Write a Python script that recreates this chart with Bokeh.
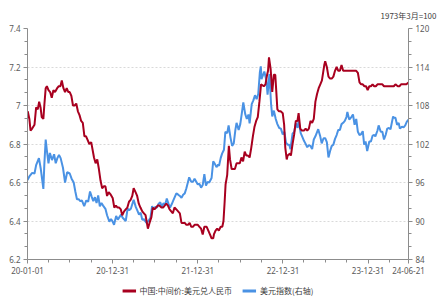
import pandas as pd
from bokeh.plotting import figure
from bokeh.layouts import column
from bokeh.models import (Range1d, LinearAxis, FixedTicker, Legend, LegendItem,
                          Title, DatetimeTickFormatter)
from bokeh.embed import file_html
from bokeh.resources import INLINE

# ---------------- data ----------------
cny_dates = [
 "2020-01-02","2020-01-09","2020-01-14","2020-01-21","2020-01-31","2020-02-07","2020-02-14","2020-02-20",
 "2020-02-26","2020-03-02","2020-03-09","2020-03-13","2020-03-19","2020-03-24","2020-03-31","2020-04-07",
 "2020-04-14","2020-04-21","2020-04-28","2020-05-07","2020-05-14","2020-05-21","2020-05-27","2020-06-03",
 "2020-06-10","2020-06-17","2020-06-24","2020-06-30","2020-07-07","2020-07-14","2020-07-21","2020-07-28",
 "2020-08-04","2020-08-11","2020-08-18","2020-08-25","2020-09-01","2020-09-08","2020-09-15","2020-09-22",
 "2020-09-30","2020-10-12","2020-10-19","2020-10-26","2020-11-02","2020-11-09","2020-11-16","2020-11-23",
 "2020-11-30","2020-12-07","2020-12-14","2020-12-21","2020-12-31",
 "2021-01-07","2021-01-14","2021-01-21","2021-01-28","2021-02-04","2021-02-10","2021-02-18","2021-02-25",
 "2021-03-04","2021-03-11","2021-03-18","2021-03-25","2021-03-31","2021-04-08","2021-04-15","2021-04-22",
 "2021-04-29","2021-05-07","2021-05-14","2021-05-21","2021-05-31","2021-06-07","2021-06-15","2021-06-21",
 "2021-06-28","2021-07-05","2021-07-12","2021-07-19","2021-07-28","2021-08-04","2021-08-11","2021-08-18",
 "2021-08-25","2021-09-01","2021-09-08","2021-09-15","2021-09-22","2021-09-30","2021-10-15","2021-10-22",
 "2021-10-29","2021-11-05","2021-11-12","2021-11-19","2021-11-26","2021-12-03","2021-12-10","2021-12-17",
 "2021-12-31",
 "2022-01-07","2022-01-14","2022-01-21","2022-01-28","2022-02-07","2022-02-14","2022-02-21","2022-02-28",
 "2022-03-07","2022-03-10","2022-03-17","2022-03-24","2022-03-31","2022-04-08","2022-04-15","2022-04-20",
 "2022-04-25","2022-04-29","2022-05-06","2022-05-13","2022-05-18","2022-05-25","2022-06-01","2022-06-08",
 "2022-06-15","2022-06-22","2022-06-29","2022-07-06","2022-07-13","2022-07-20","2022-07-27","2022-08-03",
 "2022-08-10","2022-08-17","2022-08-24","2022-08-31","2022-09-07","2022-09-14","2022-09-21","2022-09-28",
 "2022-10-10","2022-10-17","2022-10-24","2022-10-28","2022-11-01","2022-11-08","2022-11-15","2022-11-22",
 "2022-11-28","2022-12-02","2022-12-07","2022-12-14","2022-12-21","2022-12-30",
 "2023-01-05","2023-01-10","2023-01-16","2023-01-20","2023-01-30","2023-02-03","2023-02-10","2023-02-17",
 "2023-02-24","2023-03-03","2023-03-08","2023-03-15","2023-03-22","2023-03-31","2023-04-07","2023-04-14",
 "2023-04-21","2023-04-28","2023-05-05","2023-05-12","2023-05-19","2023-05-26","2023-06-02","2023-06-09",
 "2023-06-16","2023-06-26","2023-06-30","2023-07-07","2023-07-14","2023-07-21","2023-07-28","2023-08-04",
 "2023-08-11","2023-08-18","2023-08-25","2023-09-01","2023-09-08","2023-09-15","2023-09-22","2023-09-28",
 "2023-10-13","2023-10-20","2023-10-27","2023-11-03","2023-11-10","2023-11-17","2023-11-24","2023-12-01",
 "2023-12-08","2023-12-15","2023-12-22","2023-12-29",
 "2024-01-05","2024-01-12","2024-01-19","2024-01-26","2024-02-02","2024-02-09","2024-02-23","2024-03-01",
 "2024-03-08","2024-03-15","2024-03-22","2024-03-29","2024-04-03","2024-04-12","2024-04-19","2024-04-26",
 "2024-05-06","2024-05-13","2024-05-20","2024-05-27","2024-06-03","2024-06-12","2024-06-21",
]
cny_values = [
 6.97,6.93,6.87,6.88,6.90,6.99,6.98,7.02,
 6.99,6.94,6.93,7.00,7.09,7.10,7.08,7.07,
 7.04,7.08,7.07,7.09,7.10,7.10,7.13,7.09,
 7.07,7.09,7.07,7.07,7.05,7.00,7.00,7.01,
 6.97,6.95,6.92,6.91,6.84,6.84,6.82,6.80,
 6.81,6.73,6.70,6.72,6.67,6.61,6.57,6.58,
 6.58,6.53,6.55,6.54,6.52,
 6.47,6.48,6.47,6.47,6.46,6.43,6.45,6.46,
 6.47,6.50,6.51,6.53,6.57,6.55,6.53,6.49,
 6.47,6.45,6.44,6.43,6.36,6.39,6.42,6.47,
 6.46,6.47,6.48,6.48,6.47,6.47,6.48,6.49,
 6.48,6.46,6.45,6.44,6.47,6.46,6.44,6.39,
 6.39,6.39,6.38,6.38,6.39,6.37,6.37,6.38,
 6.38,
 6.37,6.36,6.33,6.37,6.37,6.35,6.33,6.31,
 6.31,6.33,6.35,6.36,6.35,6.37,6.37,6.40,
 6.50,6.59,6.64,6.79,6.72,6.67,6.67,6.67,
 6.70,6.70,6.70,6.73,6.71,6.76,6.74,6.74,
 6.73,6.78,6.84,6.89,6.92,6.94,7.02,7.11,
 7.10,7.11,7.16,7.18,7.25,7.19,7.07,7.16,
 7.16,7.08,6.98,6.97,6.97,6.96,
 6.90,6.78,6.72,6.74,6.75,6.74,6.80,6.85,
 6.92,6.92,6.96,6.88,6.87,6.87,6.88,6.87,
 6.88,6.92,6.91,6.93,7.02,7.06,7.09,7.11,
 7.13,7.21,7.23,7.20,7.15,7.14,7.14,7.15,
 7.18,7.20,7.18,7.18,7.21,7.18,7.18,7.18,
 7.18,7.18,7.18,7.18,7.18,7.17,7.12,7.11,
 7.11,7.10,7.10,7.08,
 7.10,7.10,7.11,7.10,7.10,7.11,7.11,7.11,
 7.10,7.10,7.10,7.10,7.10,7.10,7.10,7.11,
 7.10,7.10,7.11,7.11,7.11,7.11,7.12,
]

usd_dates = [
 "2020-01-01","2020-01-10","2020-01-21","2020-01-31","2020-02-07","2020-02-19","2020-02-27","2020-03-09",
 "2020-03-13","2020-03-19","2020-03-24","2020-03-31","2020-04-06","2020-04-15","2020-04-24","2020-05-01",
 "2020-05-08","2020-05-15","2020-05-22","2020-06-01","2020-06-10","2020-06-19","2020-06-30","2020-07-08",
 "2020-07-17","2020-07-24","2020-07-31","2020-08-07","2020-08-14","2020-08-21","2020-08-31","2020-09-09",
 "2020-09-17","2020-09-25","2020-10-02","2020-10-09","2020-10-16","2020-10-23","2020-10-30","2020-11-06",
 "2020-11-13","2020-11-20","2020-11-30","2020-12-07","2020-12-17","2020-12-24","2020-12-31",
 "2021-01-06","2021-01-15","2021-01-22","2021-01-29","2021-02-05","2021-02-12","2021-02-25","2021-03-05",
 "2021-03-12","2021-03-19","2021-03-31","2021-04-09","2021-04-16","2021-04-23","2021-04-30","2021-05-07",
 "2021-05-14","2021-05-25","2021-06-04","2021-06-11","2021-06-18","2021-06-25","2021-07-02","2021-07-09",
 "2021-07-16","2021-07-23","2021-07-30","2021-08-06","2021-08-13","2021-08-20","2021-08-27","2021-09-03",
 "2021-09-10","2021-09-17","2021-09-30","2021-10-08","2021-10-15","2021-10-22","2021-10-29","2021-11-05",
 "2021-11-12","2021-11-24","2021-12-03","2021-12-10","2021-12-17","2021-12-31",
 "2022-01-07","2022-01-14","2022-01-21","2022-01-28","2022-02-04","2022-02-11","2022-02-18","2022-02-28",
 "2022-03-07","2022-03-14","2022-03-21","2022-03-28","2022-04-01","2022-04-08","2022-04-14","2022-04-22",
 "2022-04-28","2022-05-06","2022-05-12","2022-05-20","2022-05-27","2022-06-03","2022-06-10","2022-06-15",
 "2022-06-24","2022-07-01","2022-07-08","2022-07-14","2022-07-22","2022-07-29","2022-08-05","2022-08-10",
 "2022-08-19","2022-08-26","2022-09-02","2022-09-09","2022-09-16","2022-09-23","2022-09-27","2022-09-30",
 "2022-10-07","2022-10-12","2022-10-21","2022-10-26","2022-11-03","2022-11-10","2022-11-15","2022-11-22",
 "2022-11-30","2022-12-07","2022-12-15","2022-12-22","2022-12-30",
 "2023-01-06","2023-01-13","2023-01-20","2023-01-27","2023-02-01","2023-02-10","2023-02-17","2023-02-24",
 "2023-03-03","2023-03-08","2023-03-17","2023-03-24","2023-03-31","2023-04-06","2023-04-14","2023-04-21",
 "2023-04-28","2023-05-05","2023-05-12","2023-05-19","2023-05-31","2023-06-08","2023-06-15","2023-06-23",
 "2023-06-30","2023-07-07","2023-07-14","2023-07-21","2023-07-28","2023-08-04","2023-08-11","2023-08-18",
 "2023-08-25","2023-09-01","2023-09-08","2023-09-15","2023-09-22","2023-09-29","2023-10-03","2023-10-11",
 "2023-10-20","2023-10-27","2023-11-03","2023-11-10","2023-11-17","2023-11-24","2023-11-30","2023-12-08",
 "2023-12-14","2023-12-20","2023-12-27",
 "2024-01-05","2024-01-12","2024-01-19","2024-01-26","2024-01-31","2024-02-09","2024-02-14","2024-02-23",
 "2024-03-01","2024-03-08","2024-03-15","2024-03-22","2024-03-29","2024-04-05","2024-04-16","2024-04-19",
 "2024-04-26","2024-05-03","2024-05-10","2024-05-15","2024-05-24","2024-05-31","2024-06-07","2024-06-14",
 "2024-06-21",
]
usd_values = [
 96.4,97.0,97.5,97.4,98.7,99.8,98.1,95.0,
 98.7,102.7,101.0,99.0,100.6,99.5,100.4,99.0,
 99.8,100.3,99.8,98.3,96.0,97.6,97.4,96.6,
 96.0,94.6,93.4,93.4,93.1,93.2,92.3,93.2,
 93.0,94.6,93.8,93.1,93.7,92.8,94.0,92.3,
 92.8,92.4,91.9,90.9,89.9,90.3,89.9,
 89.4,90.8,90.2,90.6,91.0,90.5,90.0,91.9,
 91.7,91.9,93.3,92.2,91.6,91.0,91.3,90.2,
 90.3,89.7,90.1,90.5,92.3,91.8,92.2,92.1,
 92.7,92.9,92.2,92.8,92.5,93.5,92.7,92.1,
 92.6,93.2,94.3,94.1,93.9,93.6,94.1,94.3,
 95.1,96.8,96.1,96.1,96.6,95.7,
 95.8,95.2,95.6,97.3,95.5,96.1,96.0,96.7,
 99.3,98.9,98.4,98.8,98.6,99.8,100.5,101.1,
 103.9,103.7,104.9,103.0,101.7,102.1,104.2,105.3,
 104.2,105.1,106.9,108.5,106.7,105.9,106.6,105.2,
 108.2,108.8,109.6,109.0,109.8,113.2,114.1,112.1,
 112.8,113.3,111.9,109.7,112.9,108.2,106.3,107.2,
 105.9,105.1,104.5,104.4,103.5,
 103.9,102.2,101.9,101.9,101.2,103.6,103.9,105.2,
 104.5,105.6,103.7,103.1,102.5,102.1,101.5,101.8,
 101.7,101.2,102.7,103.2,104.3,103.3,102.1,102.9,
 102.9,102.3,99.9,100.9,101.7,101.9,102.8,103.4,
 104.2,104.2,105.1,105.3,105.6,106.2,107.0,105.8,
 106.2,106.6,105.0,105.9,103.9,103.4,103.5,104.0,
 101.9,102.4,100.9,
 102.4,102.4,103.3,103.4,103.2,104.1,104.9,103.9,
 103.9,102.7,103.4,104.4,104.5,104.3,106.3,106.1,
 106.1,105.0,105.3,104.4,104.7,104.6,104.9,105.5,
 105.8,
]

x_major = ["2020-01-01", "2020-12-31", "2021-12-31", "2022-12-31", "2023-12-31", "2024-06-21"]
x_minor = ["2020-03-31", "2020-06-30", "2020-09-30", "2021-03-31", "2021-06-30", "2021-09-30",
           "2022-03-31", "2022-06-30", "2022-09-30", "2023-03-31", "2023-06-30", "2023-09-30",
           "2024-03-31"]
left_ticks = [6.2, 6.4, 6.6, 6.8, 7.0, 7.2, 7.4]
left_labels = ["6.2", "6.4", "6.6", "6.8", "7", "7.2", "7.4"]
right_ticks = [84, 90, 96, 102, 108, 114, 120]

cny_name = "中国:中间价:美元兑人民币"
usd_name = "美元指数(右轴)"
note_text = "1973年3月=100"

# ---------------- plot ----------------
RED = "#a8001f"
BLUE = "#4a92e4"
AXIS = "#8c8c8c"
TXT = "#595959"
FONT = "Noto Sans"
CJK = "Noto Sans CJK SC"

def ms(s):
    return pd.Timestamp(s).value / 1e6

x0 = pd.Timestamp(x_major[0])
x1 = pd.Timestamp(x_major[-1])

p = figure(width=439, height=282, x_axis_type="datetime",
           x_range=Range1d(x0, x1), y_range=Range1d(6.2, 7.4),
           output_backend="svg", toolbar_location=None,
           min_border_left=27, min_border_right=31, min_border_top=25, min_border_bottom=23)
p.extra_y_ranges = {"right": Range1d(84, 120)}
p.outline_line_color = None
p.background_fill_color = "white"
p.border_fill_color = "white"

def minor_between(ticks, n):
    out = []
    for a, b in zip(ticks[:-1], ticks[1:]):
        for k in range(1, n):
            out.append(a + (b - a) * k / n)
    return out

lt = FixedTicker(ticks=left_ticks, minor_ticks=minor_between(left_ticks, 3))
rt = FixedTicker(ticks=right_ticks, minor_ticks=minor_between(right_ticks, 3))
xt = FixedTicker(ticks=[ms(d) for d in x_major], minor_ticks=[ms(d) for d in x_minor])

def style_axis(ax):
    ax.axis_line_color = AXIS
    ax.major_tick_line_color = AXIS
    ax.minor_tick_line_color = AXIS
    ax.major_tick_out = 4
    ax.major_tick_in = 0
    ax.minor_tick_out = 3
    ax.minor_tick_in = 0
    ax.major_label_text_color = TXT
    ax.major_label_text_font = FONT
    ax.major_label_text_font_size = "8px"
    ax.major_label_standoff = 3

ya = p.yaxis[0]
ya.ticker = lt
ya.major_label_overrides = {t: l for t, l in zip(left_ticks, left_labels)}
style_axis(ya)

ra = LinearAxis(y_range_name="right", ticker=rt)
style_axis(ra)
p.add_layout(ra, "right")

xa = p.xaxis[0]
xa.ticker = xt
fmt = "%y-%m-%d"
xa.formatter = DatetimeTickFormatter(milliseconds=fmt, seconds=fmt, minsec=fmt, minutes=fmt,
                                     hourmin=fmt, hours=fmt, days=fmt, months=fmt, years=fmt)
style_axis(xa)

p.xgrid.visible = False
p.ygrid.ticker = lt
p.ygrid.grid_line_color = "#d9d9d9"
p.ygrid.grid_line_dash = "2 2"
p.ygrid.grid_line_width = 1

cny_x = pd.to_datetime(cny_dates)
usd_x = pd.to_datetime(usd_dates)
p.line(usd_x, usd_values, color=BLUE, line_width=2, y_range_name="right")
p.line(cny_x, cny_values, color=RED, line_width=2)

note = Title(text=note_text, align="right", offset=-28, standoff=15,
             text_font=CJK, text_font_size="8px", text_color="#404040",
             text_font_style="normal")
p.add_layout(note, "above")

# legend strip below the chart (its renderers hold the same series, outside its view)
lg = figure(width=439, height=16, x_range=Range1d(0, 1), y_range=Range1d(0, 1),
            output_backend="svg", toolbar_location=None,
            min_border_left=0, min_border_right=0, min_border_top=0, min_border_bottom=0)
lg.axis.visible = False
lg.grid.visible = False
lg.outline_line_color = None
lg.background_fill_color = "white"
lg.border_fill_color = "white"
k_cny = lg.line(cny_x, cny_values, color=RED, line_width=3)
k_usd = lg.line(usd_x, usd_values, color=BLUE, line_width=3)

legend = Legend(items=[LegendItem(label=cny_name, renderers=[k_cny]),
                       LegendItem(label=usd_name, renderers=[k_usd])],
                orientation="horizontal", location="center")
legend.label_text_font = CJK
legend.label_text_font_size = "8px"
legend.label_text_color = "#404040"
legend.glyph_width = 14
legend.glyph_height = 8
legend.label_standoff = 4
legend.spacing = 10
legend.padding = 0
legend.margin = 0
legend.border_line_color = None
legend.background_fill_alpha = 0
legend.label_height = 10
lg.add_layout(legend, "center")

layout = column(p, lg, spacing=0)
open("out.html", "w").write(file_html(layout, INLINE))
